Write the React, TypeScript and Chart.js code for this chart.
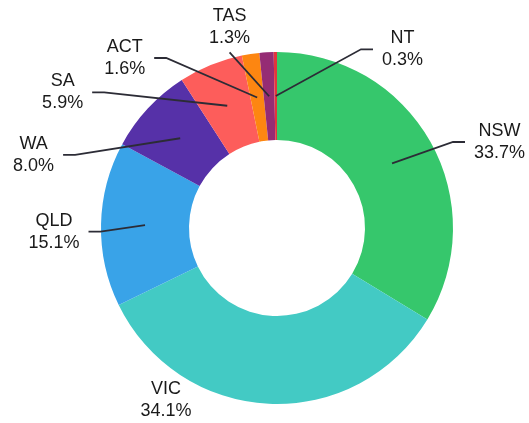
import React, { useEffect, useRef } from "react";
import { Chart, registerables } from "chart.js";

Chart.register(...registerables);

const categories = ["NSW", "VIC", "QLD", "WA", "SA", "ACT", "TAS", "NT"];
const shares = [33.7, 34.1, 15.1, 8.0, 5.9, 1.6, 1.3, 0.3];
const colors = [
  "#36c76c",
  "#43cac4",
  "#39a3e8",
  "#5631a8",
  "#fd5d5b",
  "#fd8611",
  "#952c74",
  "#e2343c",
];

// Label placement: angle (deg, clockwise from top) and radius (x outer radius)
// of the leader-line elbow, plus which side the text sits on.
const labelAngle = [63.96, 212.8, 268.8, 289.9, 308.1, 326.9, 344.9, 25.17];
const labelRadius = [1.113, 1.165, 1.003, 1.22, 1.248, 1.153, 1.034, 1.122];
const labelSide = ["right", "free", "left", "left", "left", "left", "top", "right"];

const FONT = '18px "Liberation Sans", Arial, Helvetica, sans-serif';

const outLabels = {
  id: "outLabels",
  afterDatasetsDraw(chart: any) {
    const ctx = chart.ctx;
    const meta = chart.getDatasetMeta(0);
    const data = chart.data.datasets[0].data as number[];
    const total = data.reduce((s, v) => s + v, 0);
    ctx.save();
    ctx.font = FONT;
    ctx.textBaseline = "middle";
    ctx.textAlign = "center";
    meta.data.forEach((arc: any, i: number) => {
      const { x, y, startAngle, endAngle, innerRadius, outerRadius } = arc.getProps(
        ["x", "y", "startAngle", "endAngle", "innerRadius", "outerRadius"],
        true
      );
      const mid = (startAngle + endAngle) / 2;
      const rm = (innerRadius + outerRadius) / 2;
      const sx = x + Math.cos(mid) * rm;
      const sy = y + Math.sin(mid) * rm;
      const a = ((labelAngle[i] - 90) * Math.PI) / 180;
      const bx = x + Math.cos(a) * labelRadius[i] * outerRadius;
      const by = y + Math.sin(a) * labelRadius[i] * outerRadius;
      const side = labelSide[i];
      const l1 = categories[i];
      const l2 = ((data[i] / total) * 100).toFixed(1) + "%";
      const w = Math.max(ctx.measureText(l1).width, ctx.measureText(l2).width);
      const horiz = 12;
      const gap = 9;
      let cx = bx;
      let cy = by;
      ctx.strokeStyle = "#2c2c36";
      ctx.lineWidth = 1.8;
      if (side !== "free") {
        ctx.beginPath();
        ctx.moveTo(sx, sy);
        ctx.lineTo(bx, by);
        let ex = bx;
        if (side === "right") ex = bx + horiz;
        if (side === "left") ex = bx - horiz;
        ctx.lineTo(ex, by);
        ctx.stroke();
        if (side === "right") cx = ex + gap + w / 2;
        else if (side === "left") cx = ex - gap - w / 2;
        else {
          cx = bx;
          cy = by - 25;
        }
      }
      ctx.fillStyle = "#1a1a1a";
      ctx.fillText(l1, cx, cy - 11);
      ctx.fillText(l2, cx, cy + 11);
    });
    ctx.restore();
  },
};

export default function App() {
  const ref = useRef<HTMLCanvasElement | null>(null);
  useEffect(() => {
    if (!ref.current) return;
    const chart = new Chart(ref.current, {
      type: "doughnut",
      data: {
        labels: categories,
        datasets: [
          {
            data: shares,
            backgroundColor: colors,
            borderWidth: 0,
          },
        ],
      },
      options: {
        animation: false,
        responsive: false,
        cutout: "50%",
        layout: { padding: { left: 101, top: 52, right: 76, bottom: 19 } },
        plugins: {
          legend: { display: false },
          tooltip: { enabled: false },
        },
      },
      plugins: [outLabels],
    });
    return () => chart.destroy();
  }, []);
  return (
    <div style={{ position: "fixed", left: 0, top: 0, width: 529, height: 423, background: "#fff" }}>
      <canvas ref={ref} width={529} height={423} style={{ width: 529, height: 423, display: "block" }} />
    </div>
  );
}
